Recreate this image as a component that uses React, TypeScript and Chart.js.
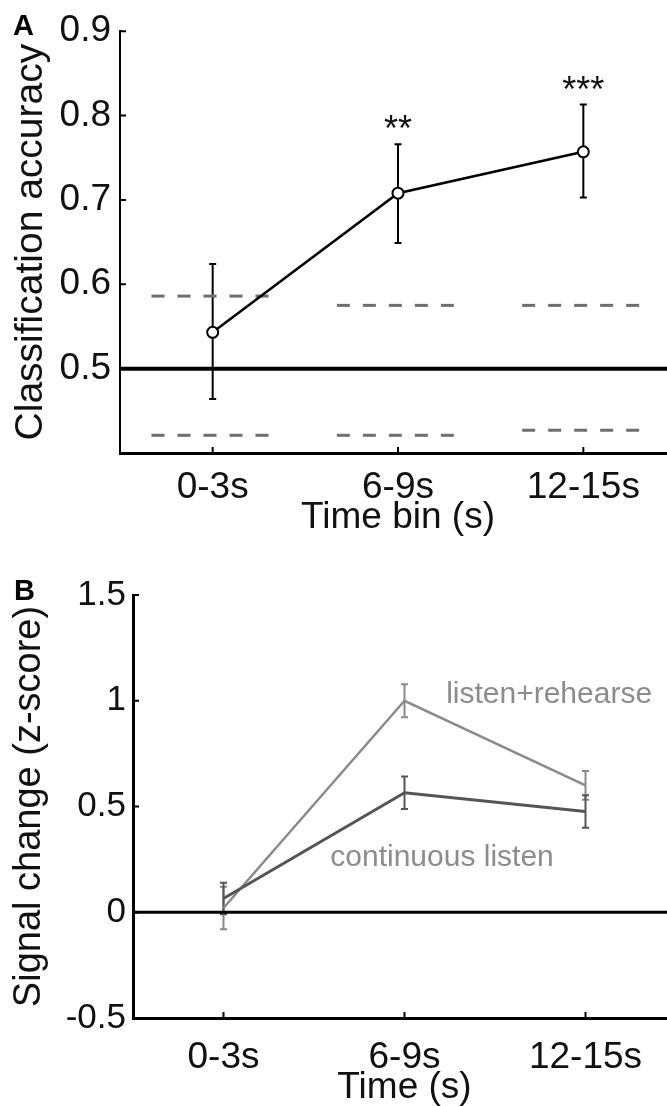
import React, { useEffect, useRef } from 'react';
import { Chart, registerables } from 'chart.js';

Chart.register(...registerables);

const FONT = '"Liberation Sans", Arial, Helvetica, sans-serif';

// ---------- shared ----------
const timeBins = ['0-3s', '6-9s', '12-15s'];

// ---------- Panel A : classification accuracy ----------
const accuracyMean = [0.543, 0.708, 0.757];
const accuracyLow = [0.464, 0.649, 0.703];
const accuracyHigh = [0.624, 0.766, 0.813];
const thresholdUpper = [0.586, 0.575, 0.575];
const thresholdLower = [0.421, 0.421, 0.427];
const significance = ['', '**', '***'];
const chanceLevel = 0.5;
const accuracyTicks = [0.4, 0.5, 0.6, 0.7, 0.8, 0.9];

// ---------- Panel B : signal change ----------
const rehearseMean = [0.02, 1.0, 0.6];
const rehearseErr = [0.1, 0.078, 0.068];
const listenMean = [0.065, 0.565, 0.476];
const listenErr = [0.075, 0.077, 0.077];
const signalTicks = [-0.5, 0, 0.5, 1, 1.5];
const baselineLevel = 0;
const seriesNames = ['listen+rehearse', 'continuous listen'];
const seriesLabelAnchors = [
  { x: 2.23, y: 1.03 },
  { x: 1.59, y: 0.26 },
];

const X_MIN = 0.5;
const X_MAX = 3.5;
const THRESH_LEFT = 0.33;
const THRESH_RIGHT = 0.31;

type ErrSpec = { low: number[]; high: number[]; color: string; width: number; cap: number };
type TextSpec = {
  text: string;
  x: number;
  y: number;
  color: string;
  font: string;
  align: CanvasTextAlign;
  baseline: CanvasTextBaseline;
  dy?: number;
};

function overlayPlugin(opts: { errs: ErrSpec[]; yTickVals: number[]; texts: TextSpec[] }) {
  return {
    id: 'overlay',
    beforeDatasetsDraw(chart: any) {
      const { ctx, scales } = chart;
      const x = scales.x;
      const y = scales.y;
      ctx.save();
      for (const e of opts.errs) {
        ctx.strokeStyle = e.color;
        ctx.lineWidth = e.width;
        e.low.forEach((lo, i) => {
          const px = x.getPixelForValue(i + 1);
          const yl = y.getPixelForValue(lo);
          const yh = y.getPixelForValue(e.high[i]);
          ctx.beginPath();
          ctx.moveTo(px, yl);
          ctx.lineTo(px, yh);
          ctx.moveTo(px - e.cap, yl);
          ctx.lineTo(px + e.cap, yl);
          ctx.moveTo(px - e.cap, yh);
          ctx.lineTo(px + e.cap, yh);
          ctx.stroke();
        });
      }
      ctx.restore();
    },
    afterDatasetsDraw(chart: any) {
      const { ctx, chartArea, scales } = chart;
      const x = scales.x;
      const y = scales.y;
      ctx.save();
      // inward tick marks
      ctx.strokeStyle = '#000';
      ctx.lineWidth = 2;
      ctx.beginPath();
      timeBins.forEach((_, i) => {
        const px = x.getPixelForValue(i + 1);
        ctx.moveTo(px, chartArea.bottom);
        ctx.lineTo(px, chartArea.bottom - 6);
      });
      opts.yTickVals.forEach((v) => {
        const py = y.getPixelForValue(v);
        if (Math.abs(py - chartArea.bottom) < 2) return;
        ctx.moveTo(chartArea.left, py);
        ctx.lineTo(chartArea.left + 6, py);
      });
      ctx.stroke();
      // texts
      for (const t of opts.texts) {
        ctx.fillStyle = t.color;
        ctx.font = t.font;
        ctx.textAlign = t.align;
        ctx.textBaseline = t.baseline;
        ctx.fillText(t.text, x.getPixelForValue(t.x), y.getPixelForValue(t.y) + (t.dy || 0));
      }
      ctx.restore();
    },
  };
}

function xScale(tickSize: number, tickPad: number, title: string, titleSize: number, titlePadBottom: number, titleLH: number, xAxisHeight: number, borderWidth: number) {
  return {
    type: 'linear',
    min: X_MIN,
    max: X_MAX,
    grid: { display: false, drawTicks: false },
    border: { display: true, color: '#000', width: borderWidth },
    afterBuildTicks: (s: any) => {
      s.ticks = timeBins.map((_, i) => ({ value: i + 1 }));
    },
    afterFit: (s: any) => {
      s.height = xAxisHeight;
    },
    ticks: {
      color: '#111',
      padding: tickPad,
      maxRotation: 0,
      autoSkip: false,
      font: { family: FONT, size: tickSize },
      callback: (v: number) => timeBins[Math.round(v) - 1] ?? '',
    },
    title: {
      display: true,
      text: title,
      color: '#111',
      font: { family: FONT, size: titleSize, lineHeight: titleLH },
      padding: { top: 0, bottom: titlePadBottom },
    },
  };
}

function yScale(min: number, max: number, tickVals: number[], fmt: (v: number) => string, tickSize: number, tickPad: number, title: string, titleSize: number, titlePadTop: number, axisWidth: number, borderWidth: number) {
  return {
    type: 'linear',
    min,
    max,
    grid: { display: false, drawTicks: false },
    border: { display: true, color: '#000', width: borderWidth },
    afterBuildTicks: (s: any) => {
      s.ticks = tickVals.map((v) => ({ value: v }));
    },
    afterFit: (s: any) => {
      s.width = axisWidth;
    },
    ticks: {
      color: '#111',
      padding: tickPad,
      autoSkip: false,
      font: { family: FONT, size: tickSize },
      callback: (v: number) => fmt(v),
    },
    title: {
      display: true,
      text: title,
      color: '#111',
      font: { family: FONT, size: titleSize },
      padding: { top: titlePadTop, bottom: 0 },
    },
  };
}

function buildChartA(canvas: HTMLCanvasElement) {
  const datasets: any[] = [];
  datasets.push({
    data: accuracyMean.map((v, i) => ({ x: i + 1, y: v })),
    borderColor: '#000',
    borderWidth: 2.5,
    pointRadius: 5.5,
    pointBorderWidth: 2,
    pointBorderColor: '#000',
    pointBackgroundColor: '#fff',
    order: 0,
  });
  datasets.push({
    data: [
      { x: X_MIN, y: chanceLevel },
      { x: X_MAX, y: chanceLevel },
    ],
    borderColor: '#000',
    borderWidth: 4,
    pointRadius: 0,
    order: 1,
  });
  [thresholdUpper, thresholdLower].forEach((arr) => {
    arr.forEach((v, i) => {
      datasets.push({
        data: [
          { x: i + 1 - THRESH_LEFT, y: v },
          { x: i + 1 + THRESH_RIGHT, y: v },
        ],
        borderColor: '#6e6e6e',
        borderWidth: 3,
        borderDash: [13, 13],
        pointRadius: 0,
        order: 2,
      });
    });
  });

  const texts: TextSpec[] = significance
    .map((s, i) => ({
      text: s,
      x: i + 1,
      y: accuracyHigh[i],
      color: '#111',
      font: `36px ${FONT}`,
      align: 'center' as CanvasTextAlign,
      baseline: 'alphabetic' as CanvasTextBaseline,
      dy: -3,
    }))
    .filter((t) => t.text);

  return new Chart(canvas, {
    type: 'line',
    data: { datasets },
    options: {
      responsive: false,
      animation: false,
      devicePixelRatio: 1,
      layout: { padding: { top: 31, right: 14, bottom: 0, left: 0 } },
      plugins: { legend: { display: false }, tooltip: { enabled: false } },
      scales: {
        x: xScale(37, 13, 'Time bin (s)', 37, 20, 1.2, 107, 3),
        y: yScale(0.4, 0.9, accuracyTicks, (v) => (Math.abs(v - 0.4) < 1e-6 ? '' : v.toFixed(1)), 37, 9, 'Classification accuracy', 39, 8, 120, 2),
      },
    } as any,
    plugins: [
      overlayPlugin({
        errs: [{ low: accuracyLow, high: accuracyHigh, color: '#000', width: 2, cap: 3.5 }],
        yTickVals: accuracyTicks,
        texts,
      }),
    ],
  });
}

function buildChartB(canvas: HTMLCanvasElement) {
  const rehearseColor = '#8a8a8a';
  const listenColor = '#555555';
  const datasets: any[] = [
    {
      data: listenMean.map((v, i) => ({ x: i + 1, y: v })),
      borderColor: listenColor,
      borderWidth: 3,
      pointRadius: 0,
      order: 0,
    },
    {
      data: rehearseMean.map((v, i) => ({ x: i + 1, y: v })),
      borderColor: rehearseColor,
      borderWidth: 2.5,
      pointRadius: 0,
      order: 1,
    },
    {
      data: [
        { x: X_MIN, y: baselineLevel },
        { x: X_MAX, y: baselineLevel },
      ],
      borderColor: '#000',
      borderWidth: 3,
      pointRadius: 0,
      order: 2,
    },
  ];

  const texts: TextSpec[] = seriesNames.map((name, i) => ({
    text: name,
    x: seriesLabelAnchors[i].x,
    y: seriesLabelAnchors[i].y,
    color: '#8c8c8c',
    font: `30px ${FONT}`,
    align: 'left' as CanvasTextAlign,
    baseline: 'middle' as CanvasTextBaseline,
  }));

  return new Chart(canvas, {
    type: 'line',
    data: { datasets },
    options: {
      responsive: false,
      animation: false,
      devicePixelRatio: 1,
      layout: { padding: { top: 35, right: 14, bottom: 0, left: 0 } },
      plugins: { legend: { display: false }, tooltip: { enabled: false } },
      scales: {
        x: xScale(37, 18, 'Time (s)', 37, 0, 1.0, 88, 3),
        y: yScale(-0.5, 1.5, signalTicks, (v) => String(v), 35, 7, 'Signal change (z-score)', 38, 7, 133, 3),
      },
    } as any,
    plugins: [
      overlayPlugin({
        errs: [
          {
            low: rehearseMean.map((m, i) => m - rehearseErr[i]),
            high: rehearseMean.map((m, i) => m + rehearseErr[i]),
            color: rehearseColor,
            width: 2,
            cap: 3.5,
          },
          {
            low: listenMean.map((m, i) => m - listenErr[i]),
            high: listenMean.map((m, i) => m + listenErr[i]),
            color: listenColor,
            width: 2,
            cap: 3.5,
          },
        ],
        yTickVals: signalTicks,
        texts,
      }),
    ],
  });
}

export default function App() {
  const refA = useRef<HTMLCanvasElement>(null);
  const refB = useRef<HTMLCanvasElement>(null);

  useEffect(() => {
    const a = buildChartA(refA.current!);
    const b = buildChartB(refB.current!);
    return () => {
      a.destroy();
      b.destroy();
    };
  }, []);

  const letter: React.CSSProperties = {
    position: 'absolute',
    fontFamily: FONT,
    fontWeight: 'bold',
    fontSize: 29,
    lineHeight: '29px',
    color: '#000',
  };

  return (
    <div style={{ position: 'absolute', left: 0, top: 0, width: 667, height: 1106, overflow: 'hidden', background: '#fff' }}>
      <canvas ref={refA} width={690} height={560} style={{ position: 'absolute', left: 0, top: 0 }} />
      <canvas ref={refB} width={690} height={546} style={{ position: 'absolute', left: 0, top: 560 }} />
      <div style={{ ...letter, left: 13, top: 11 }}>A</div>
      <div style={{ ...letter, left: 14, top: 576 }}>B</div>
    </div>
  );
}
